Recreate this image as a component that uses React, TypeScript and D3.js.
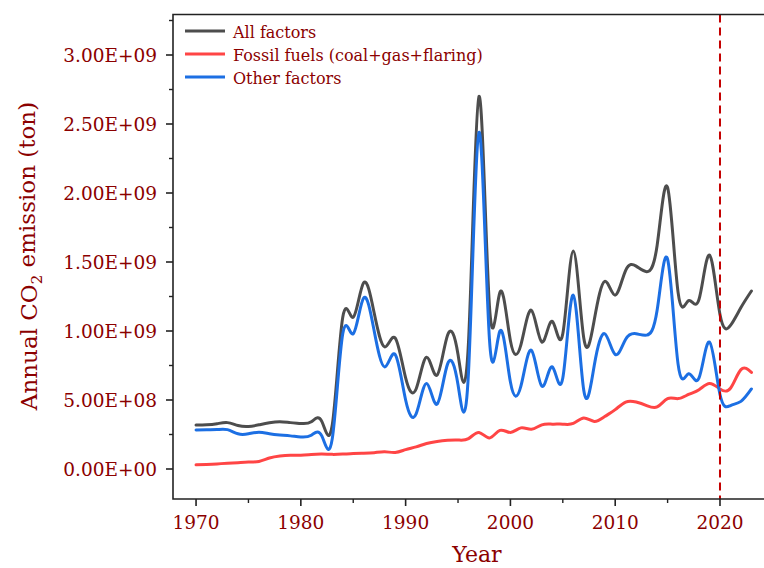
import React from "react";
import * as d3 from "d3";

const years = [
  1970, 1971, 1972, 1973, 1974, 1975, 1976, 1977, 1978, 1979,
  1980, 1981, 1982, 1983, 1984, 1985, 1986, 1987, 1988, 1989,
  1990, 1991, 1992, 1993, 1994, 1995, 1996, 1997, 1998, 1999,
  2000, 2001, 2002, 2003, 2004, 2005, 2006, 2007, 2008, 2009,
  2010, 2011, 2012, 2013, 2014, 2015, 2016, 2017, 2018, 2019,
  2020, 2021, 2022, 2023,
];

const allFactors = [
  3.18e8, 3.2e8, 3.28e8, 3.36e8, 3.15e8, 3.08e8, 3.2e8, 3.35e8, 3.43e8, 3.36e8,
  3.3e8, 3.42e8, 3.45e8, 3.2e8, 1.1e9, 1.1e9, 1.35e9, 1.13e9, 8.85e8, 9.5e8,
  6.6e8, 5.8e8, 8.1e8, 6.8e8, 9.7e8, 8.3e8, 9.2e8, 2.7e9, 1.18e9, 1.28e9,
  9.3e8, 9.0e8, 1.15e9, 9.2e8, 1.07e9, 9.8e8, 1.58e9, 9.5e8, 1.08e9, 1.36e9,
  1.26e9, 1.44e9, 1.47e9, 1.43e9, 1.62e9, 2.04e9, 1.28e9, 1.22e9, 1.23e9, 1.55e9,
  1.12e9, 1.04e9, 1.17e9, 1.29e9,
];

const fossilFuels = [
  3.0e7, 3.3e7, 3.7e7, 4.2e7, 4.6e7, 5.0e7, 5.5e7, 8.0e7, 9.5e7, 1.0e8,
  1.0e8, 1.05e8, 1.08e8, 1.06e8, 1.08e8, 1.12e8, 1.14e8, 1.18e8, 1.25e8, 1.2e8,
  1.4e8, 1.6e8, 1.85e8, 2.0e8, 2.08e8, 2.1e8, 2.2e8, 2.65e8, 2.25e8, 2.8e8,
  2.65e8, 2.98e8, 2.88e8, 3.2e8, 3.25e8, 3.25e8, 3.3e8, 3.7e8, 3.45e8, 3.8e8,
  4.3e8, 4.85e8, 4.85e8, 4.6e8, 4.5e8, 5.1e8, 5.1e8, 5.4e8, 5.75e8, 6.2e8,
  5.8e8, 5.85e8, 7.2e8, 7.0e8,
];

const otherFactors = [
  2.83e8, 2.85e8, 2.86e8, 2.85e8, 2.55e8, 2.55e8, 2.66e8, 2.55e8, 2.46e8, 2.4e8,
  2.32e8, 2.45e8, 2.4e8, 2.2e8, 9.8e8, 9.8e8, 1.24e9, 1.0e9, 7.4e8, 8.3e8,
  5.0e8, 4.0e8, 6.2e8, 4.7e8, 7.6e8, 6.1e8, 7.0e8, 2.44e9, 9.4e8, 1.0e9,
  6.3e8, 6.0e8, 8.6e8, 6.0e8, 7.4e8, 6.6e8, 1.26e9, 5.7e8, 7.5e8, 9.8e8,
  8.3e8, 9.4e8, 9.8e8, 9.7e8, 1.15e9, 1.52e9, 7.6e8, 6.9e8, 6.6e8, 9.2e8,
  5.4e8, 4.6e8, 4.9e8, 5.8e8,
];

const seriesNames = ["All factors", "Fossil fuels (coal+gas+flaring)", "Other factors"];
const seriesColors = ["#4d4d4d", "#ff4545", "#1c6fe3"];

const yTickValues = [0, 5e8, 1e9, 1.5e9, 2e9, 2.5e9, 3e9];
const yTickLabels = ["0.00E+00", "5.00E+08", "1.00E+09", "1.50E+09", "2.00E+09", "2.50E+09", "3.00E+09"];
const yMinorTicks = [2.5e8, 7.5e8, 1.25e9, 1.75e9, 2.25e9, 2.75e9, 3.25e9];
const xTickValues = [1970, 1980, 1990, 2000, 2010, 2020];
const xTickLabels = ["1970", "1980", "1990", "2000", "2010", "2020"];
const xMinorTicks = [1975, 1985, 1995, 2005, 2015];
const markerYear = 2020;

const TEXT = "#8b0000";
const FONT = "'DejaVu Serif', 'Liberation Serif', serif";

export default function App() {
  const W = 764;
  const H = 568;
  const left = 173;
  const right = 764;
  const top = 14.5;
  const bottom = 499;

  const x = d3.scaleLinear().domain([1967.8, 2024.2]).range([left, right]);
  const y = d3.scaleLinear().domain([-2.174e8, 3.2935e9]).range([bottom, top]);

  const series = [allFactors, fossilFuels, otherFactors];
  const lineGen = d3
    .line<number>()
    .x((_, i) => x(years[i]))
    .y((d) => y(d))
    .curve(d3.curveNatural);

  const drawOrder = [0, 1, 2];

  return (
    <svg
      width={W}
      height={H}
      style={{ position: "absolute", left: 0, top: 0, display: "block", background: "#fff" }}
      fontFamily={FONT}
    >
      <rect x={0} y={0} width={W} height={H} fill="#fff" />
      {drawOrder.map((si) => (
        <path
          key={si}
          d={lineGen(series[si]) || ""}
          fill="none"
          stroke={seriesColors[si]}
          strokeWidth={3}
          strokeLinejoin="round"
          strokeLinecap="round"
        />
      ))}

      <line
        x1={x(markerYear)}
        x2={x(markerYear)}
        y1={top}
        y2={bottom}
        stroke="#c40000"
        strokeWidth={2}
        strokeDasharray="8,5"
      />

      {/* spines */}
      <path
        d={`M${right},${top} H${left} V${bottom} H${right}`}
        fill="none"
        stroke="#222"
        strokeWidth={1.6}
      />

      {/* y ticks */}
      {yTickValues.map((v, i) => (
        <g key={"yt" + i}>
          <line x1={left - 7} x2={left} y1={y(v)} y2={y(v)} stroke="#222" strokeWidth={1.6} />
          <text
            x={left - 16}
            y={y(v)}
            dy="0.38em"
            textAnchor="end"
            fill={TEXT}
            fontSize={18.5}
          >
            {yTickLabels[i]}
          </text>
        </g>
      ))}
      {yMinorTicks.map((v, i) => (
        <line key={"ym" + i} x1={left - 4} x2={left} y1={y(v)} y2={y(v)} stroke="#222" strokeWidth={1.4} />
      ))}

      {/* x ticks */}
      {xTickValues.map((v, i) => (
        <g key={"xt" + i}>
          <line x1={x(v)} x2={x(v)} y1={bottom} y2={bottom + 7} stroke="#222" strokeWidth={1.6} />
          <text x={x(v)} y={bottom + 24} dy="0.35em" textAnchor="middle" fill={TEXT} fontSize={18.5}>
            {xTickLabels[i]}
          </text>
        </g>
      ))}
      {xMinorTicks.map((v, i) => (
        <line key={"xm" + i} x1={x(v)} x2={x(v)} y1={bottom} y2={bottom + 4} stroke="#222" strokeWidth={1.4} />
      ))}

      {/* axis titles */}
      <text x={477} y={554} dy="0.35em" textAnchor="middle" fill={TEXT} fontSize={22}>
        Year
      </text>
      <text
        transform={`translate(29,256) rotate(-90)`}
        textAnchor="middle"
        dy="0.35em"
        fill={TEXT}
        fontSize={23}
      >
        Annual CO
        <tspan fontSize={15} dy="0.3em">2</tspan>
        <tspan dy="-0.3em"> emission (ton)</tspan>
      </text>

      {/* legend */}
      {seriesNames.map((name, i) => (
        <g key={"lg" + i}>
          <line
            x1={185}
            x2={225}
            y1={31 + i * 23}
            y2={31 + i * 23}
            stroke={seriesColors[i]}
            strokeWidth={3}
          />
          <text x={233} y={31 + i * 23} dy="0.45em" fill={TEXT} fontSize={16}>
            {name}
          </text>
        </g>
      ))}
    </svg>
  );
}
